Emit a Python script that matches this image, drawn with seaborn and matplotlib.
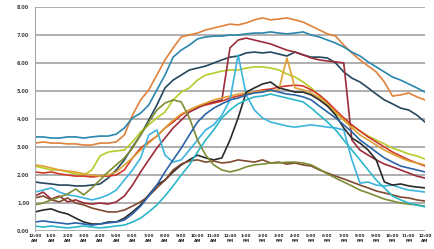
import numpy as np
import pandas as pd
import matplotlib
matplotlib.use("Agg")
import matplotlib.pyplot as plt
import seaborn as sns

# half-hour samples over one day
hours = np.arange(0, 24.5, 0.5)

orange = [3.14, 3.18, 3.14, 3.14, 3.11, 3.11, 3.07, 3.07, 3.14, 3.14, 3.18, 3.43, 4.14, 4.68, 5.04, 5.57, 6.11,
          6.54, 6.93, 7.00, 7.07, 7.18, 7.25, 7.32, 7.39, 7.36, 7.43, 7.54, 7.61, 7.54, 7.57, 7.61, 7.54, 7.46,
          7.32, 7.18, 7.04, 6.96, 6.64, 6.36, 6.11, 5.89, 5.68, 5.32, 4.82, 4.86, 4.93, 4.79, 4.68]
teal = [3.36, 3.36, 3.32, 3.32, 3.36, 3.36, 3.32, 3.36, 3.39, 3.39, 3.46, 3.68, 4.04, 4.21, 4.50, 5.04, 5.57,
        6.21, 6.46, 6.64, 6.86, 6.93, 6.96, 6.96, 7.00, 7.00, 7.04, 7.07, 7.07, 7.11, 7.07, 7.04, 7.07, 7.11,
        7.00, 6.93, 6.82, 6.71, 6.57, 6.39, 6.25, 6.04, 5.86, 5.68, 5.50, 5.39, 5.25, 5.11, 4.96]
navy = [1.75, 1.71, 1.68, 1.64, 1.64, 1.61, 1.61, 1.64, 1.68, 1.89, 2.18, 2.54, 3.00, 3.43, 3.96, 4.50, 5.11,
        5.39, 5.57, 5.75, 5.82, 5.89, 6.00, 6.11, 6.21, 6.25, 6.36, 6.39, 6.36, 6.39, 6.32, 6.25, 6.39, 6.29,
        6.21, 6.21, 6.18, 6.00, 5.68, 5.46, 5.32, 5.11, 4.89, 4.68, 4.54, 4.39, 4.32, 4.14, 3.89]
lime = [2.32, 2.25, 2.18, 2.18, 2.11, 2.04, 2.00, 2.18, 2.68, 2.82, 2.86, 2.89, 3.18, 3.54, 3.79, 4.04, 4.25,
        4.68, 4.96, 5.11, 5.39, 5.57, 5.64, 5.71, 5.75, 5.75, 5.82, 5.86, 5.86, 5.82, 5.75, 5.61, 5.50, 5.32,
        5.11, 4.82, 4.57, 4.21, 3.96, 3.75, 3.57, 3.39, 3.25, 3.11, 2.96, 2.86, 2.75, 2.68, 2.57]
red = [2.11, 2.07, 2.11, 2.04, 2.00, 1.96, 1.96, 1.93, 1.96, 1.96, 2.00, 2.18, 2.61, 2.96, 3.18, 3.39, 3.68,
       3.89, 4.14, 4.32, 4.43, 4.50, 4.57, 4.64, 4.75, 4.82, 4.89, 4.96, 5.04, 5.07, 5.14, 5.18, 5.21, 5.18,
       5.04, 4.86, 4.61, 4.32, 4.04, 3.79, 3.57, 3.36, 3.18, 3.00, 2.82, 2.68, 2.54, 2.43, 2.32]
maroon = [1.25, 1.39, 1.14, 1.25, 1.04, 1.11, 1.00, 0.96, 1.00, 0.96, 1.04, 1.25, 1.64, 2.11, 2.54, 2.96, 3.32,
          3.68, 3.96, 4.25, 4.39, 4.54, 4.61, 4.68, 6.54, 6.82, 6.89, 6.82, 6.75, 6.68, 6.57, 6.46, 6.39, 6.29,
          6.18, 6.11, 6.07, 6.04, 6.00, 3.25, 2.89, 2.71, 2.54, 2.39, 2.29, 2.18, 2.07, 1.96, 1.89]
gold = [2.36, 2.32, 2.25, 2.18, 2.14, 2.11, 2.04, 2.00, 1.96, 2.00, 2.11, 2.36, 2.61, 2.89, 3.14, 3.39, 3.68,
        3.96, 4.18, 4.32, 4.46, 4.57, 4.68, 4.75, 4.82, 4.89, 4.93, 4.96, 5.00, 5.00, 5.04, 6.18, 5.11, 5.04,
        4.93, 4.75, 4.50, 4.25, 3.96, 3.68, 3.43, 3.25, 3.07, 2.89, 2.75, 2.61, 2.50, 2.43, 2.36]
skyblue = [1.39, 1.46, 1.54, 1.39, 1.29, 1.25, 1.18, 1.11, 1.18, 1.29, 1.46, 1.82, 2.18, 2.61, 3.43, 3.61, 2.71,
           2.46, 2.54, 2.89, 3.25, 3.61, 3.79, 4.14, 4.68, 6.29, 4.86, 4.32, 4.04, 3.89, 3.82, 3.75, 3.71, 3.75,
           3.79, 3.75, 3.71, 3.68, 3.61, 2.54, 1.71, 1.75, 1.64, 1.61, 1.64, 1.54, 1.46, 1.43, 1.39]
black = [0.68, 0.75, 0.79, 0.68, 0.61, 0.46, 0.32, 0.25, 0.25, 0.32, 0.32, 0.46, 0.68, 0.93, 1.29, 1.64, 1.82,
         2.11, 2.36, 2.54, 2.71, 2.61, 2.54, 2.61, 3.25, 4.04, 4.96, 5.11, 5.25, 5.32, 5.11, 5.04, 4.96, 4.96,
         4.86, 4.68, 4.46, 4.14, 3.68, 3.32, 3.14, 2.89, 2.54, 1.75, 1.64, 1.68, 1.61, 1.57, 1.54]
brown = [1.18, 1.25, 1.11, 1.04, 1.18, 1.00, 0.93, 0.82, 0.75, 0.68, 0.68, 0.75, 0.89, 1.04, 1.25, 1.54, 1.82,
         2.18, 2.39, 2.50, 2.54, 2.46, 2.50, 2.43, 2.46, 2.54, 2.50, 2.46, 2.54, 2.43, 2.46, 2.39, 2.43, 2.36,
         2.32, 2.18, 2.07, 1.96, 1.86, 1.75, 1.64, 1.54, 1.43, 1.36, 1.29, 1.21, 1.18, 1.11, 1.07]
olive = [0.93, 1.00, 1.11, 1.21, 1.32, 1.50, 1.29, 1.54, 1.82, 2.11, 2.36, 2.61, 2.96, 3.43, 3.89, 4.32, 4.57,
         4.68, 4.61, 4.04, 3.25, 2.71, 2.36, 2.18, 2.11, 2.18, 2.29, 2.36, 2.39, 2.43, 2.43, 2.46, 2.46, 2.43,
         2.36, 2.21, 2.04, 1.89, 1.75, 1.61, 1.46, 1.36, 1.25, 1.14, 1.07, 1.00, 0.96, 0.93, 0.89]
blue = [0.32, 0.36, 0.32, 0.29, 0.25, 0.29, 0.25, 0.21, 0.25, 0.29, 0.32, 0.39, 0.61, 0.89, 1.25, 1.64, 2.11,
        2.54, 2.96, 3.43, 3.89, 4.18, 4.39, 4.54, 4.68, 4.75, 4.86, 4.93, 4.96, 5.04, 4.96, 4.89, 4.86, 4.79,
        4.68, 4.46, 4.25, 4.04, 3.79, 3.54, 3.25, 3.04, 2.82, 2.61, 2.46, 2.32, 2.25, 2.18, 2.11]
cyan = [0.18, 0.14, 0.18, 0.14, 0.11, 0.14, 0.18, 0.14, 0.11, 0.14, 0.18, 0.21, 0.32, 0.46, 0.68, 0.93, 1.25,
        1.61, 2.00, 2.36, 2.82, 3.25, 3.61, 4.04, 4.32, 4.54, 4.68, 4.79, 4.82, 4.89, 4.82, 4.75, 4.68, 4.61,
        4.39, 4.14, 3.89, 3.61, 3.25, 2.89, 2.54, 2.18, 1.82, 1.54, 1.25, 1.11, 1.00, 0.93, 0.86]

series = {"orange": orange, "teal": teal, "navy": navy, "lime": lime, "red": red, "maroon": maroon,
          "gold": gold, "skyblue": skyblue, "black": black, "brown": brown, "olive": olive,
          "blue": blue, "cyan": cyan}
colors = {"orange": "#e0813a", "teal": "#2a86ad", "navy": "#24475e", "lime": "#b9cb2a", "red": "#d23a2a",
          "maroon": "#9c2c3a", "gold": "#dfa035", "skyblue": "#3cb4de", "black": "#2a2a2a",
          "brown": "#7e4a2e", "olive": "#7f8c34", "blue": "#2a63a8", "cyan": "#2bb6c9"}

y_ticks = np.arange(0, 9, 1)
x_ticks = np.arange(0, 25, 1)
x_labels = [f"{(t % 12) or 12}:00\n{'AM' if t < 12 or t == 24 else 'PM'}" for t in x_ticks]

df = pd.DataFrame([(s, h, v) for s, vals in series.items() for h, v in zip(hours, vals)],
                  columns=["series", "hour", "value"])

sns.set_style("white")
fig = plt.figure(figsize=(4.35, 2.49), dpi=100)
ax = fig.add_axes([35 / 435, 1 - 231 / 249, 390 / 435, 224 / 249])

for yv in y_ticks:
    ax.axhline(yv, color="#9a9a9a", lw=1.1, zorder=0)

sns.lineplot(data=df, x="hour", y="value", hue="series", palette=colors, linewidth=1.2,
             legend=False, ax=ax)

ax.set_xlim(0, 24)
ax.set_ylim(0, 8)
ax.set_yticks(y_ticks)
ax.set_yticklabels([f"{v:.2f}" for v in y_ticks], fontsize=3.6, color="#444", fontweight="bold")
ax.set_xticks(x_ticks)
ax.set_xticklabels(x_labels, fontsize=3.0, color="#222", fontweight="bold", linespacing=1.3)
ax.tick_params(axis="y", length=2, width=0.6, color="#999", pad=2)
ax.tick_params(axis="x", length=0, pad=2)
ax.set_xlabel("")
ax.set_ylabel("")
for side in ["top", "right", "bottom"]:
    ax.spines[side].set_visible(False)
ax.spines["left"].set_color("#aaa")
ax.spines["left"].set_linewidth(0.8)

fig.savefig("out.png", dpi=100)
